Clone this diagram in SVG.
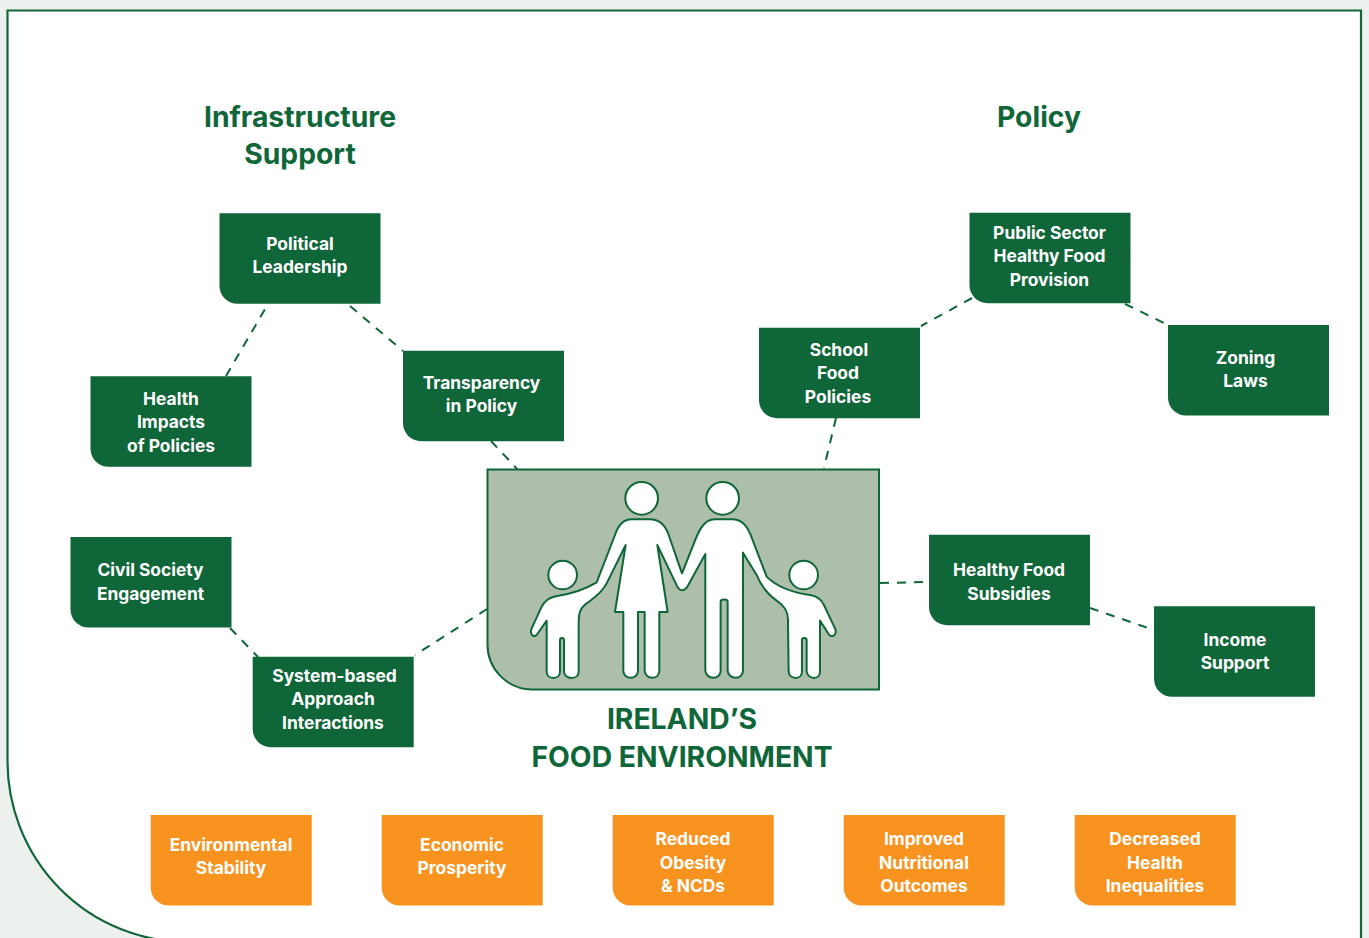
<svg xmlns="http://www.w3.org/2000/svg" width="1369" height="938" viewBox="0 0 1369 938">
<style>
.b{fill:#0f6639}
.o{fill:#f8931f}
text{font-family:"Inter","Liberation Sans",sans-serif;font-weight:700;text-anchor:middle}
.t{fill:#fff;font-size:17.4px}
.h{fill:#0f6639;font-size:28.3px;font-weight:700}
.c{fill:none;stroke:#0f6639;stroke-width:2;stroke-dasharray:9 8}
</style>
<defs>
<path id="box" d="M0 0H161V90.5H18A18 18 0 0 1 0 72.5Z"/>
</defs>
<rect width="1369" height="938" fill="#edf1ee"/>
<path id="panel" d="M7.500 10.500H1361V942H187A180 181 0 0 1 7.500 760Z" fill="#fff" stroke="#0f6639" stroke-width="2.200"/>
<g id="connectors" class="c">
<path d="M226 376L268 304"/>
<path d="M350 306L403 351"/>
<path d="M491 441L518 470"/>
<path d="M230 628L258 657"/>
<path d="M487 609L415 655"/>
<path d="M972 298L921 326"/>
<path d="M1125 304L1168 325"/>
<path d="M836 418L824 468"/>
<path d="M880 583L929 582"/>
<path d="M1090 608L1154 630"/>
</g>
<g id="title-infrastructure"><text class="h" x="300" y="127">Infrastructure</text><text class="h" x="300" y="164">Support</text></g>
<g id="title-policy"><text class="h" x="1039" y="127">Policy</text></g>
<g id="political"><use href="#box" x="219.500" y="213.300" class="b"/><text class="t" x="300" y="250">Political</text><text class="t" x="300" y="273">Leadership</text></g>
<g id="health-impacts"><use href="#box" x="90.500" y="376.300" class="b"/><text class="t" x="171" y="405">Health</text><text class="t" x="171" y="428">Impacts</text><text class="t" x="171" y="452">of Policies</text></g>
<g id="transparency"><use href="#box" x="403" y="350.700" class="b"/><text class="t" x="481.500" y="389">Transparency</text><text class="t" x="481.500" y="412">in Policy</text></g>
<g id="civil"><use href="#box" x="70.500" y="537" class="b"/><text class="t" x="150.500" y="576">Civil Society</text><text class="t" x="150.500" y="600">Engagement</text></g>
<g id="system"><use href="#box" x="252.700" y="656.700" class="b"/><text class="t" x="334.500" y="682">System-based</text><text class="t" x="333" y="705">Approach</text><text class="t" x="333" y="729">Interactions</text></g>
<g id="public-sector"><use href="#box" x="969.500" y="212.700" class="b"/><text class="t" x="1049.500" y="239">Public Sector</text><text class="t" x="1049.500" y="262">Healthy Food</text><text class="t" x="1049.500" y="286">Provision</text></g>
<g id="school"><use href="#box" x="759" y="327.700" class="b"/><text class="t" x="839" y="356">School</text><text class="t" x="838" y="379">Food</text><text class="t" x="838" y="403">Policies</text></g>
<g id="zoning"><use href="#box" x="1168" y="325" class="b"/><text class="t" x="1245.500" y="364">Zoning</text><text class="t" x="1245.500" y="387">Laws</text></g>
<g id="subsidies"><use href="#box" x="929" y="534.700" class="b"/><text class="t" x="1009" y="576">Healthy Food</text><text class="t" x="1009" y="600">Subsidies</text></g>
<g id="income"><use href="#box" x="1154" y="606.300" class="b"/><text class="t" x="1235" y="646">Income</text><text class="t" x="1235" y="669">Support</text></g>
<g id="centre">
<path d="M487.500 469.500H879V689.500H532A45 45 0 0 1 487.500 644.500Z" fill="#adbfab" stroke="#0f6639" stroke-width="2"/>
<g transform="translate(480 460) scale(.3333)" fill="#fff" stroke="#0f6639" stroke-width="6" stroke-linejoin="round">
<circle cx="485" cy="115" r="49"/><circle cx="728" cy="115" r="49"/><circle cx="248" cy="345" r="43"/><circle cx="971" cy="345" r="43"/>
<path d="M455 178H510C540 178 555 195 565 222L606 340L640 255C655 215 670 178 705 178H755C785 178 800 195 812 225L860 350C890 380 940 398 990 405C1015 408 1025 420 1032 435L1065 505C1072 520 1060 535 1048 525L1020 482V635C1020 660 985 660 980 635V540C980 532 966 532 966 540V635C966 660 928 660 926 635L924 480C924 450 910 435 890 422C860 400 840 370 830 345L789 278V632C789 660 745 660 743 632V425C743 416 722 416 722 425V632C722 660 678 660 676 632V282L625 375C615 395 600 395 592 380L532 255L563 456H538V632C538 660 496 660 494 632V456H474V632C474 660 430 660 430 632V456H405L437 255L380 370C365 400 340 415 320 430C300 445 296 460 296 490V635C296 660 254 660 252 635V540C252 532 240 532 240 540V635C240 660 200 660 200 635V482L170 525C160 535 148 520 155 505L185 440C195 420 210 410 235 407C280 400 320 385 350 367L405 225C415 195 430 178 455 178Z"/>
</g>
<text class="h" x="682" y="729">IRELAND’S</text><text class="h" x="682" y="767">FOOD ENVIRONMENT</text>
</g>
<g id="environmental"><use href="#box" x="150.700" y="815" class="o"/><text class="t" x="231" y="851">Environmental</text><text class="t" x="231" y="874">Stability</text></g>
<g id="economic"><use href="#box" x="381.700" y="815" class="o"/><text class="t" x="462" y="851">Economic</text><text class="t" x="462" y="874">Prosperity</text></g>
<g id="obesity"><use href="#box" x="612.700" y="815" class="o"/><text class="t" x="693" y="845">Reduced</text><text class="t" x="693" y="869">Obesity</text><text class="t" x="693" y="892">&amp; NCDs</text></g>
<g id="nutritional"><use href="#box" x="843.700" y="815" class="o"/><text class="t" x="924" y="845">Improved</text><text class="t" x="924" y="869">Nutritional</text><text class="t" x="924" y="892">Outcomes</text></g>
<g id="inequalities"><use href="#box" x="1074.700" y="815" class="o"/><text class="t" x="1155" y="845">Decreased</text><text class="t" x="1155" y="869">Health</text><text class="t" x="1155" y="892">Inequalities</text></g>
</svg>
